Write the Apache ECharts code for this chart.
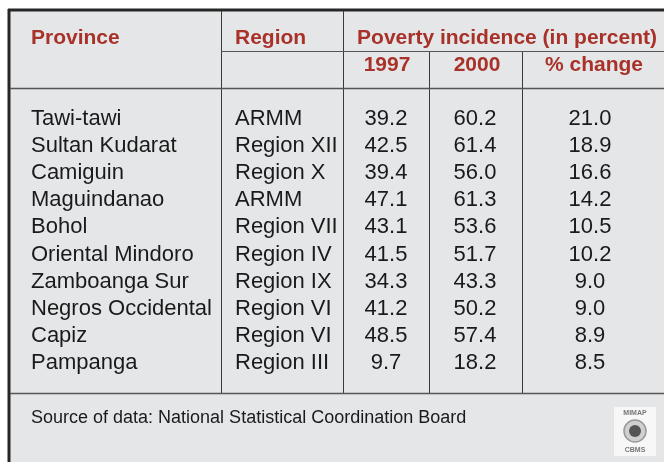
<!DOCTYPE html>
<html>
<head>
<meta charset="utf-8">
<style>
  html, body { margin: 0; padding: 0; background: #ffffff; }
  #chart { width: 664px; height: 462px; }
</style>
<script src="https://cdn.jsdelivr.net/npm/echarts@6/dist/echarts.min.js"></script>
</head>
<body>
<div id="chart"></div>
<script>
// table data
const provinces = ['Tawi-tawi', 'Sultan Kudarat', 'Camiguin', 'Maguindanao', 'Bohol',
  'Oriental Mindoro', 'Zamboanga Sur', 'Negros Occidental', 'Capiz', 'Pampanga']
const regions = ['ARMM', 'Region XII', 'Region X', 'ARMM', 'Region VII',
  'Region IV', 'Region IX', 'Region VI', 'Region VI', 'Region III']
const pov1997 = [39.2, 42.5, 39.4, 47.1, 43.1, 41.5, 34.3, 41.2, 48.5, 9.7]
const pov2000 = [60.2, 61.4, 56.0, 61.3, 53.6, 51.7, 43.3, 50.2, 57.4, 18.2]
const pctChange = [21.0, 18.9, 16.6, 14.2, 10.5, 10.2, 9.0, 9.0, 8.9, 8.5]
const source = 'Source of data: National Statistical Coordination Board'

const red = '#a8322a'
const ink = '#1a1a1a'
const bg = '#e5e6e8'
const font = '"Liberation Sans", Arial, sans-serif'

const chart = echarts.init(document.getElementById('chart'))

// one column of the table = one invisible scatter series with labels
function column(values, x, align, fmt) {
  return {
    type: 'scatter',
    symbolSize: 0,
    silent: true,
    itemStyle: { opacity: 1 },
    data: values.map((v, i) => ({ value: [x, provinces[i]], text: fmt(v) })),
    label: {
      show: true,
      position: 'inside',
      align: align,
      verticalAlign: 'middle',
      color: ink,
      opacity: 1,
      fontFamily: font,
      fontSize: 22,
      formatter: p => p.data.text
    }
  }
}

function line(x1, y1, x2, y2, w, c) {
  return { type: 'line', silent: true, shape: { x1, y1, x2, y2 }, style: { stroke: c, lineWidth: w } }
}
function head(text, x, y, align) {
  return { type: 'text', silent: true, x, y, style: { text, fill: red, font: 'bold 21px ' + font, textAlign: align, textVerticalAlign: 'middle' } }
}

chart.setOption({
  backgroundColor: '#ffffff',
  animation: false,
  grid: { left: 0, right: 0, top: 104.9, height: 272 },
  xAxis: { type: 'value', min: 0, max: 664, show: false },
  yAxis: { type: 'category', data: provinces, inverse: true, show: false },
  series: [
    column(provinces, 31, 'left', v => v),
    column(regions, 235, 'left', v => v),
    column(pov1997, 386, 'center', v => v.toFixed(1)),
    column(pov2000, 475, 'center', v => v.toFixed(1)),
    column(pctChange, 590, 'center', v => v.toFixed(1))
  ],
  graphic: [
    { type: 'rect', silent: true, z: -10, shape: { x: 8, y: 9, width: 656, height: 453 }, style: { fill: bg } },
    line(8, 10, 664, 10, 3, '#262626'),
    line(9, 9, 9, 462, 3, '#262626'),
    line(221.5, 11, 221.5, 393, 1, '#3a3a3a'),
    line(343.5, 11, 343.5, 393, 1, '#3a3a3a'),
    line(429.5, 51, 429.5, 393, 1, '#3a3a3a'),
    line(522.5, 51, 522.5, 393, 1, '#3a3a3a'),
    line(221, 51.5, 664, 51.5, 1, '#555555'),
    line(10, 88.5, 664, 88.5, 1.5, '#555555'),
    line(10, 393.5, 664, 393.5, 1.5, '#555555'),
    head('Province', 31, 38, 'left'),
    head('Region', 235, 38, 'left'),
    head('Poverty incidence (in percent)', 507, 38, 'center'),
    head('1997', 387, 65, 'center'),
    head('2000', 477, 65, 'center'),
    head('% change', 594, 65, 'center'),
    { type: 'text', silent: true, x: 31, y: 418, style: { text: source, fill: ink, font: '18px ' + font, textVerticalAlign: 'middle' } },
    // small logo in the corner
    { type: 'rect', silent: true, shape: { x: 614, y: 407, width: 42, height: 49 }, style: { fill: '#f7f7f7' } },
    { type: 'text', silent: true, x: 635, y: 413, style: { text: 'MIMAP', fill: '#777777', font: 'bold 7px ' + font, textAlign: 'center', textVerticalAlign: 'middle' } },
    { type: 'circle', silent: true, shape: { cx: 635, cy: 431, r: 11 }, style: { fill: '#d0d0d0', stroke: '#999999', lineWidth: 1.5 } },
    { type: 'circle', silent: true, shape: { cx: 635, cy: 431, r: 6 }, style: { fill: '#555555' } },
    { type: 'text', silent: true, x: 635, y: 450, style: { text: 'CBMS', fill: '#777777', font: 'bold 7px ' + font, textAlign: 'center', textVerticalAlign: 'middle' } }
  ]
})
</script>
</body>
</html>
